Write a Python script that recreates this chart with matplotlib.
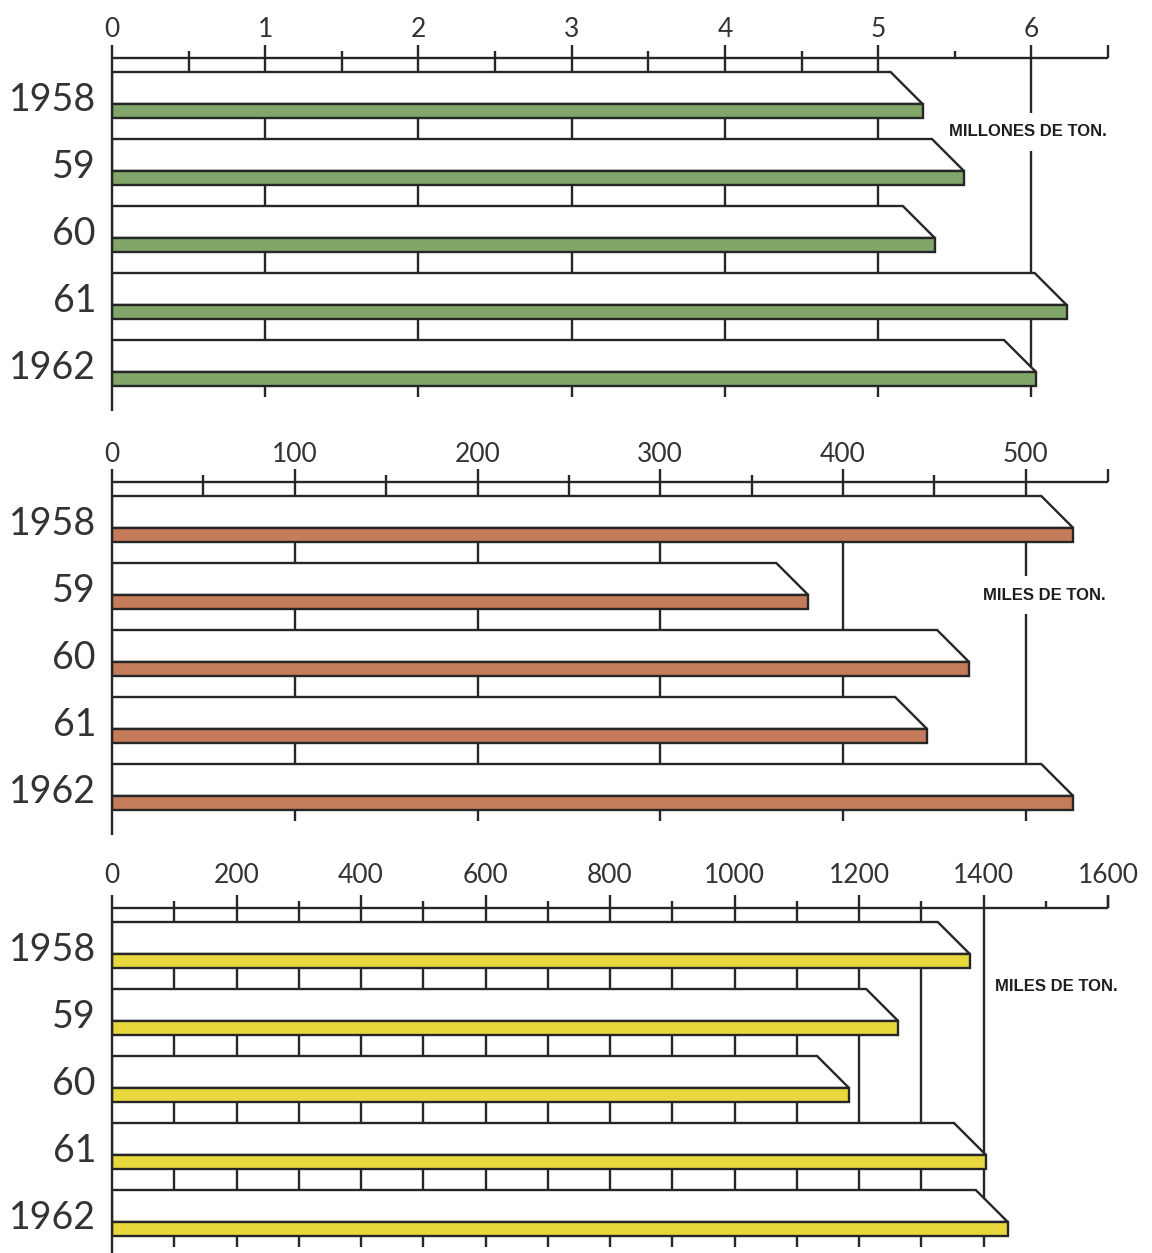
import matplotlib
matplotlib.use('Agg')
import matplotlib.pyplot as plt
from matplotlib.patches import Polygon, Rectangle

W, H = 1152, 1253

years = ['1958', '59', '60', '61', '1962']

# panel 1 - millones de ton.
vals1 = [5.29, 5.56, 5.37, 6.23, 6.03]
major1 = [0, 1, 2, 3, 4, 5, 6]
labels1 = ['0', '1', '2', '3', '4', '5', '6']
minor1 = [0.5, 1.5, 2.5, 3.5, 4.5, 5.5]
grid1 = [1, 2, 3, 4, 5, 6]

# panel 2 - miles de ton.
vals2 = [526, 381, 469, 446, 526]
major2 = [0, 100, 200, 300, 400, 500]
labels2 = ['0', '100', '200', '300', '400', '500']
minor2 = [50, 150, 250, 350, 450]
grid2 = [100, 200, 300, 400, 500]

# panel 3 - miles de ton.
vals3 = [1378, 1263, 1184, 1404, 1439]
major3 = [0, 200, 400, 600, 800, 1000, 1200, 1400, 1600]
labels3 = ['0', '200', '400', '600', '800', '1000', '1200', '1400', '1600']
minor3 = [100, 300, 500, 700, 900, 1100, 1300, 1500]
grid3 = [100, 200, 300, 400, 500, 600, 700, 800, 900, 1000, 1100, 1200, 1300, 1400]

LC = '#262626'
LW = 1.7
NUM_FONT = ['Lato', 'DejaVu Sans']
UNIT_FONT = ['Liberation Sans', 'DejaVu Sans']

X0, X1 = 112, 1108     # pixel span of the value axis
GAP0 = 14              # axis line -> first bar back edge
PITCH = 67
DEPTH = 32             # top face
THICK = 14             # front face


def draw_panel(fig, top, bot, xmax, vals, major, labels, minor, grid, color,
               axis_y, label_gap, unit, unit_x, unit_y, unit_ha, boxed=True):
    ax = fig.add_axes([X0 / W, 1 - bot / H, (X1 - X0) / W, (bot - top) / H])
    ax.set_xlim(0, xmax)
    ax.set_ylim(bot, top)
    ax.axis('off')
    off = DEPTH * xmax / (X1 - X0)

    backs = [axis_y + GAP0 + PITCH * i for i in range(len(vals))]
    last = backs[-1] + DEPTH + THICK
    kw = dict(color=LC, lw=LW, solid_capstyle='butt', clip_on=False)

    # axis line, left line, end tick
    ax.plot([0, xmax], [axis_y, axis_y], zorder=4, **kw)
    ax.plot([0, 0], [axis_y - 13, last + 25], zorder=5, **kw)
    ax.plot([xmax, xmax], [axis_y - 13, axis_y], zorder=4, **kw)

    # ticks and gridlines
    for t in major + minor:
        if t == 0:
            continue
        y_top = axis_y - 13 if t in major else axis_y - 7
        if t in grid:
            y_end = last + 11
        elif t < vals[0] - off:
            y_end = backs[0]
        else:
            y_end = axis_y
        ax.plot([t, t], [y_top, y_end], zorder=1, **kw)

    for t, lab in zip(major, labels):
        ax.text(t, axis_y - label_gap, lab, ha='center', va='baseline',
                fontsize=19, family=NUM_FONT, color='#333333')

    # bars: white top face + coloured front face
    for v, b, yr in zip(vals, backs, years):
        ft = b + DEPTH
        ax.add_patch(Polygon([(0, b), (v - off, b), (v, ft), (0, ft)],
                             closed=True, facecolor='white', edgecolor=LC,
                             lw=LW, zorder=3, joinstyle='miter'))
        ax.add_patch(Rectangle((0, ft), v, THICK, facecolor=color,
                               edgecolor=LC, lw=LW, zorder=3.2))
        ax.annotate(yr, xy=(0, b + 39), xytext=(-16, 0),
                    textcoords='offset pixels', ha='right', va='baseline',
                    fontsize=27, family=NUM_FONT, color='#333333',
                    annotation_clip=False)

    box = None
    if boxed:
        box = dict(boxstyle='square,pad=0.7', facecolor='white', edgecolor='none')
    ax.text(unit_x, unit_y, unit, ha=unit_ha, va='center', fontsize=12,
            fontweight='bold', family=UNIT_FONT, color='#1e1e1e', zorder=2,
            bbox=box)
    return ax


fig = plt.figure(figsize=(W / 100, H / 100), dpi=100)
fig.patch.set_facecolor('white')

draw_panel(fig, 0, 415, 6.5, vals1, major1, labels1, minor1, grid1,
           '#82a66a', 58, 21, 'MILLONES DE TON.', 5.98, 132, 'center')
draw_panel(fig, 415, 840, 545, vals2, major2, labels2, minor2, grid2,
           '#c47c5a', 482, 20, 'MILES DE TON.', 510, 595, 'center')
draw_panel(fig, 840, 1253, 1600, vals3, major3, labels3, minor3, grid3,
           '#e8d83e', 908, 25, 'MILES DE TON.', 1418, 987, 'left', boxed=False)

fig.savefig('out.png', dpi=100, facecolor='white')
